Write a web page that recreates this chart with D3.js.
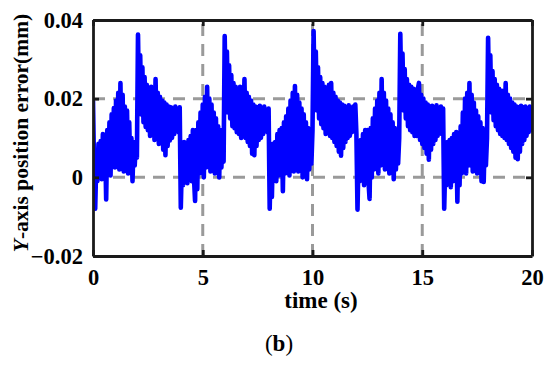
<!DOCTYPE html>
<html>
<head>
<meta charset="utf-8">
<script src="https://cdn.jsdelivr.net/npm/d3@7"></script>
<style>
  html, body { margin: 0; padding: 0; background: #fff; }
  svg { display: block; }
  text { font-family: "Liberation Serif", "Times New Roman", serif; font-weight: bold; }
</style>
</head>
<body>
<svg id="chart" width="550" height="365"></svg>
<script>
// ---- data ----
const sampleStep = 0.05; // s, sampling interval of the recorded error
const errorMm = [
  // 0 - 4 s
  .0194,.0020,-.0080,.0040,-.0010,.0085,.0000,.0092,-.0005,.0110,.0010,.0095,-.0056,.0120,.0020,.0140,.0005,.0160,.0030,.0176,
  .0025,.0195,.0030,.0215,.0020,.0240,.0040,.0210,.0015,.0180,.0030,.0170,.0010,.0140,.0020,.0100,-.0010,.0090,.0030,.0085,
  .0050,.0363,.0175,.0310,.0160,.0280,.0140,.0255,.0128,.0235,.0120,.0225,.0105,.0230,.0110,.0220,.0095,.0250,.0100,.0215,
  .0085,.0205,.0090,.0195,.0070,.0190,.0056,.0185,.0080,.0180,.0094,.0178,.0100,.0175,.0110,.0180,.0120,.0172,.0115,.0178,
  -.0077,
  // 4 - 8 s
  .0040,-.0020,.0090,.0000,.0085,-.0015,.0095,.0010,.0105,-.0010,.0120,.0000,-.0060,.0120,-.0030,.0140,.0010,.0165,.0020,
  .0185,.0000,.0205,.0025,.0230,.0030,.0200,.0015,.0185,.0025,.0165,.0010,.0150,.0020,.0130,.0000,.0120,.0025,.0110,.0040,
  .0359,.0180,.0320,.0165,.0285,.0150,.0260,.0130,.0240,.0125,.0230,.0115,.0225,.0110,.0230,.0100,.0225,.0105,.0250,.0100,
  .0215,.0090,.0205,.0080,.0195,.0060,.0185,.0056,.0180,.0080,.0178,.0095,.0182,.0100,.0175,.0110,.0180,.0120,.0172,.0115,
  .0175,
  // 8 - 12 s
  -.0080,.0050,-.0050,.0085,.0000,.0090,-.0010,.0110,.0005,.0120,.0010,.0125,-.0035,.0140,.0010,.0155,.0020,.0175,.0005,
  .0195,.0025,.0215,.0015,.0232,.0030,.0210,.0015,.0190,.0025,.0175,.0000,.0160,.0020,.0140,-.0005,.0125,.0020,.0110,.0035,
  .0120,.0372,.0190,.0320,.0170,.0280,.0150,.0255,.0135,.0240,.0125,.0230,.0110,.0225,.0115,.0235,.0105,.0240,.0100,.0215,
  .0090,.0205,.0080,.0195,.0065,.0190,.0055,.0185,.0075,.0182,.0090,.0178,.0100,.0183,.0105,.0175,.0115,.0180,.0120,.0185,
  .0110,
  // 12 - 16 s
  -.0082,.0060,-.0010,.0095,.0005,.0110,-.0020,.0120,.0000,.0120,-.0010,-.0055,.0125,.0000,.0150,.0020,.0175,.0025,.0195,
  .0010,.0215,.0030,.0250,.0035,.0215,.0020,.0195,.0030,.0175,.0010,.0160,.0020,.0140,-.0005,.0125,.0020,.0110,.0035,.0100,
  .0365,.0185,.0315,.0170,.0275,.0150,.0250,.0130,.0235,.0120,.0230,.0115,.0225,.0105,.0222,.0105,.0225,.0240,.0095,.0210,
  .0085,.0200,.0075,.0190,.0060,.0185,.0045,.0180,.0070,.0182,.0085,.0178,.0095,.0183,.0105,.0175,.0115,.0180,.0110,.0175,
  -.0080,
  // 16 - 20 s
  .0040,-.0020,.0090,.0000,.0095,-.0025,.0100,-.0010,.0110,.0000,.0115,-.0062,.0110,-.0020,.0130,.0010,.0165,.0020,.0200,
  .0010,.0215,.0030,.0240,.0030,.0210,.0015,.0190,.0030,.0170,.0010,.0155,.0020,.0140,-.0010,.0125,-.0012,.0110,.0030,.0100,
  .0355,.0180,.0310,.0165,.0270,.0145,.0250,.0130,.0235,.0120,.0225,.0110,.0220,.0105,.0220,.0100,.0240,.0095,.0210,.0085,
  .0200,.0075,.0190,.0065,.0185,.0050,.0180,.0046,.0178,.0065,.0182,.0085,.0178,.0095,.0180,.0105,.0175,.0115,.0180,.0120,
  .0170
];
const xTicks = [0, 5, 10, 15, 20];
const xTickLabels = ["0", "5", "10", "15", "20"];
const yTicks = [-0.02, 0, 0.02, 0.04];
const yTickLabels = ["\u22120.02", "0", "0.02", "0.04"];
const xDomain = [0, 20];
const yDomain = [-0.02, 0.04];

// ---- layout ----
const svg = d3.select("#chart");
const L = 93, R = 532, T = 20, B = 256;
const x = d3.scaleLinear().domain(xDomain).range([L, R]);
const y = d3.scaleLinear().domain(yDomain).range([B, T]);
const frameColor = "#1a1a1a";
const tickFs = 22.5, labelFs = 23, yLabelFs = 21.5;

// grid
const grid = svg.append("g").attr("stroke", "#9a9a9a").attr("stroke-width", 3)
  .attr("stroke-dasharray", "12,8").attr("fill", "none");
xTicks.filter(v => v > xDomain[0] && v < xDomain[1]).forEach(v => {
  grid.append("line").attr("x1", x(v)).attr("x2", x(v)).attr("y1", B).attr("y2", T);
});
yTicks.filter(v => v > yDomain[0] && v < yDomain[1]).forEach(v => {
  grid.append("line").attr("x1", L).attr("x2", R).attr("y1", y(v)).attr("y2", y(v));
});

// data line
const pts = errorMm.map((v, i) => [i * sampleStep, v]);
svg.append("defs").append("clipPath").attr("id", "clip")
  .append("rect").attr("x", L).attr("y", T).attr("width", R - L).attr("height", B - T);
svg.append("path")
  .datum(pts)
  .attr("clip-path", "url(#clip)")
  .attr("fill", "none")
  .attr("stroke", "#0000ff")
  .attr("stroke-width", 4.6)
  .attr("stroke-linejoin", "round")
  .attr("stroke-linecap", "round")
  .attr("d", d3.line().x(d => x(d[0])).y(d => y(d[1])));

// axes (inward ticks, mirrored)
function styleAxis(g) {
  g.selectAll("path.domain").attr("stroke", frameColor).attr("stroke-width", 2.8);
  g.selectAll(".tick line").attr("stroke", frameColor).attr("stroke-width", 2.8);
  g.selectAll("text").attr("fill", "#000").style("font-size", tickFs + "px")
    .style("font-family", '"Liberation Serif", "Times New Roman", serif').style("font-weight", "bold");
}
const xAxisB = d3.axisBottom(x).tickValues(xTicks).tickSize(-6).tickSizeOuter(0).tickPadding(13)
  .tickFormat((d, i) => xTickLabels[i]);
svg.append("g").attr("transform", `translate(0,${B})`).call(xAxisB).call(styleAxis);
const xAxisT = d3.axisTop(x).tickValues(xTicks).tickSize(-6).tickSizeOuter(0).tickFormat("");
svg.append("g").attr("transform", `translate(0,${T})`).call(xAxisT).call(styleAxis);
const yAxisL = d3.axisLeft(y).tickValues(yTicks).tickSize(-6).tickSizeOuter(0).tickPadding(10)
  .tickFormat((d, i) => yTickLabels[i]);
svg.append("g").attr("transform", `translate(${L},0)`).call(yAxisL).call(styleAxis);
const yAxisR = d3.axisRight(y).tickValues(yTicks).tickSize(-6).tickSizeOuter(0).tickFormat("");
svg.append("g").attr("transform", `translate(${R},0)`).call(yAxisR).call(styleAxis);
svg.selectAll(".domain").attr("fill", "none");

// labels
svg.append("text").attr("x", 321).attr("y", 308).attr("text-anchor", "middle")
  .style("font-size", labelFs + "px").text("time (s)");

const yl = svg.append("text").attr("transform", "translate(28,133) rotate(-90)")
  .attr("text-anchor", "middle").style("font-size", yLabelFs + "px");
yl.append("tspan").style("font-style", "italic").text("Y");
yl.append("tspan").text("-axis position error(mm)");

const cap = svg.append("text").attr("x", 279).attr("y", 351).attr("text-anchor", "middle")
  .style("font-size", labelFs + "px");
cap.append("tspan").style("font-weight", "normal").text("(");
cap.append("tspan").text("b");
cap.append("tspan").style("font-weight", "normal").text(")");
</script>
</body>
</html>
